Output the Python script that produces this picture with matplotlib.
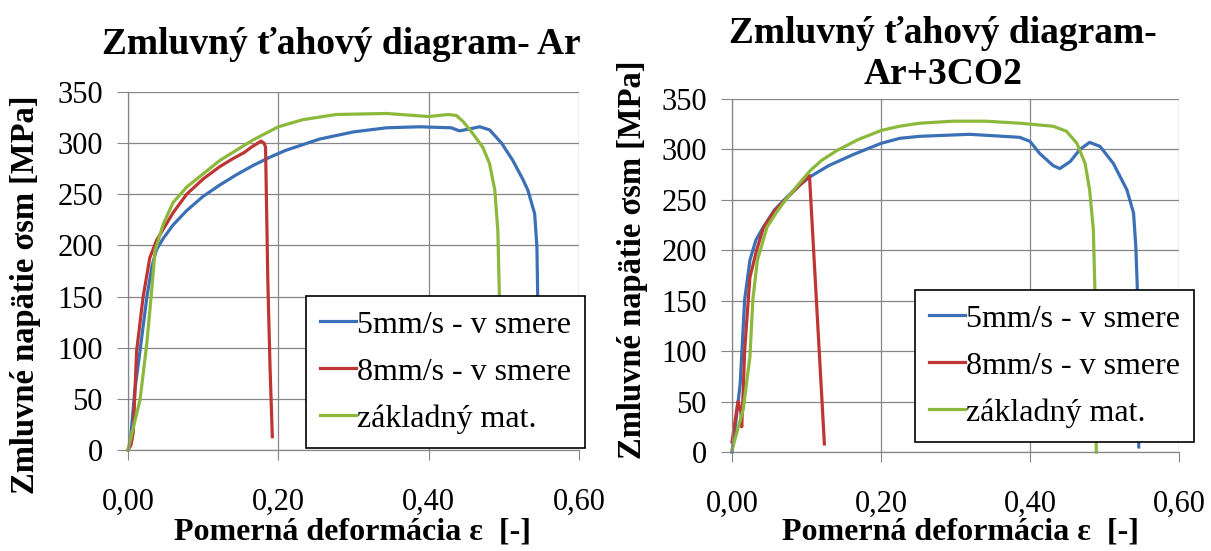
import matplotlib
matplotlib.use('Agg')
import matplotlib.pyplot as plt

plt.rcParams['font.family'] = 'serif'
plt.rcParams['font.serif'] = ['Liberation Serif', 'DejaVu Serif']

# data: strain [-] and stress [MPa]
ar_5mm_eps = [0, 0.003, 0.009, 0.016, 0.025, 0.032, 0.038, 0.047, 0.06, 0.078, 0.1, 0.122,
              0.144, 0.166, 0.188, 0.21, 0.255, 0.3, 0.344, 0.388, 0.43, 0.441, 0.455,
              0.468, 0.481, 0.497, 0.512, 0.525, 0.532, 0.541, 0.544, 0.545, 0.546, 0.547]
ar_5mm_sig = [0, 7, 58, 97, 149, 180, 196, 207, 220, 234, 248, 259,
              269, 278, 286, 293, 304, 311, 315, 316, 315, 312, 314,
              316, 313, 300, 283, 265, 254, 231, 199, 153, 80, 10]

ar_8mm_eps = [0, 0.004, 0.007, 0.0115, 0.02, 0.029, 0.038, 0.047, 0.06, 0.078, 0.1, 0.122,
              0.14, 0.155, 0.164, 0.177, 0.181, 0.183, 0.186, 0.189, 0.192]
ar_8mm_sig = [0, 5, 17, 97, 149, 188, 205, 216, 232, 250, 265, 277,
              285, 291, 296, 302, 300, 296, 166, 80, 13]

ar_base_eps = [0, 0.008, 0.016, 0.025, 0.0315, 0.036, 0.047, 0.06, 0.078, 0.1, 0.122, 0.166,
               0.2, 0.233, 0.277, 0.344, 0.4, 0.426, 0.437, 0.446, 0.455, 0.472, 0.481,
               0.488, 0.492, 0.494, 0.495, 0.496]
ar_base_sig = [0, 25, 49, 104, 156, 195, 221, 242, 257, 270, 283, 303,
               316, 323, 328, 329, 326, 328, 327, 321, 313, 296, 280,
               254, 215, 153, 80, 5]

co2_5mm_eps = [0, 0.006, 0.011, 0.017, 0.024, 0.032, 0.042, 0.057, 0.074, 0.09, 0.105, 0.13,
               0.163, 0.2, 0.225, 0.252, 0.319, 0.386, 0.4, 0.413, 0.431, 0.44, 0.454,
               0.467, 0.48, 0.494, 0.512, 0.53, 0.539, 0.542, 0.544, 0.545, 0.546]
co2_5mm_sig = [0, 35, 68, 151, 190, 210, 223, 240, 253, 264, 273, 284,
               295, 306, 311, 313, 315, 312, 308, 296, 284, 281, 288,
               300, 307, 303, 286, 260, 237, 204, 164, 80, 5]

co2_8mm_eps = [0, 0.008, 0.012, 0.013, 0.015, 0.017, 0.024, 0.033, 0.042, 0.057, 0.074, 0.09,
               0.104, 0.124]
co2_8mm_sig = [10, 50, 40, 25, 60, 101, 173, 200, 222, 239, 252, 264,
               274, 8]

co2_base_eps = [0, 0.015, 0.024, 0.028, 0.034, 0.047, 0.06, 0.074, 0.09, 0.105, 0.12, 0.141,
                0.17, 0.201, 0.225, 0.252, 0.297, 0.34, 0.386, 0.431, 0.449, 0.463, 0.474,
                0.48, 0.485, 0.487, 0.489]
co2_base_sig = [2, 42, 94, 151, 190, 223, 238, 252, 266, 279, 289, 299,
                310, 319, 323, 326, 328, 328, 326, 323, 318, 306, 286,
                260, 221, 164, 0]

labels = ['5mm/s - v smere', '8mm/s - v smere', 'základný mat.']
colors = ['#3C70B6', '#BE3634', '#8CB83C']
x_ticks = [0, 0.2, 0.4, 0.6]
x_ticklabels = ['0,00', '0,20', '0,40', '0,60']
y_ticks = [0, 50, 100, 150, 200, 250, 300, 350]

W, H = 1211, 551
fig = plt.figure(figsize=(W / 100, H / 100), dpi=100)


def px_axes(x0, x1, ytop, ybot):
    return fig.add_axes([x0 / W, (H - ybot) / H, (x1 - x0) / W, (ybot - ytop) / H])


def style(ax):
    ax.set_xlim(0, 0.6)
    ax.set_ylim(0, 350)
    ax.set_xticks(x_ticks)
    ax.set_xticklabels(x_ticklabels)
    ax.set_yticks(y_ticks)
    ax.grid(True, color='#868686', linewidth=0.9)
    ax.set_axisbelow(True)
    for s in ['top', 'right']:
        ax.spines[s].set_visible(False)
    for s in ['left', 'bottom']:
        ax.spines[s].set_color('#868686')
        ax.spines[s].set_linewidth(0.9)
    ax.tick_params(axis='y', length=8, color='#868686', labelsize=22, pad=10)
    ax.tick_params(axis='x', length=7, color='#868686', labelsize=22, pad=20)


def draw(ax, series, leg_x, leg_y):
    for (e, s), c, lab in zip(series, colors, labels):
        ax.plot(e, s, color=c, linewidth=2.3, label=lab, clip_on=False,
                solid_joinstyle='round')
    leg = ax.legend(loc='lower left', bbox_to_anchor=(leg_x / W, (H - leg_y) / H),
                    bbox_transform=fig.transFigure, borderaxespad=0,
                    fontsize=23, fancybox=False, framealpha=1, edgecolor='black',
                    handlelength=1.1, handletextpad=0.05, labelspacing=0.55,
                    borderpad=0.45)
    leg.get_frame().set_linewidth(1.2)
    leg.set_zorder(10)


ax1 = px_axes(128, 579, 92, 450)
style(ax1)
draw(ax1, [(ar_5mm_eps, ar_5mm_sig), (ar_8mm_eps, ar_8mm_sig), (ar_base_eps, ar_base_sig)],
     306, 448)

ax2 = px_axes(732, 1179, 99, 452)
style(ax2)
draw(ax2, [(co2_5mm_eps, co2_5mm_sig), (co2_8mm_eps, co2_8mm_sig), (co2_base_eps, co2_base_sig)],
     915, 442)

# titles and axis labels
fig.text(341 / W, 1 - 45 / H, 'Zmluvný ťahový diagram- Ar', ha='center', va='center',
         fontsize=27, fontweight='bold')
fig.text(943 / W, 1 - 54 / H, 'Zmluvný ťahový diagram-\nAr+3CO2', ha='center', va='center',
         fontsize=27, fontweight='bold', linespacing=1.2)

xlab = 'Pomerná deformácia ε  [-]'
ylab = 'Zmluvné napätie σsm [MPa]'
fig.text(352 / W, 1 - 532 / H, xlab, ha='center', va='center', fontsize=23, fontweight='bold')
fig.text(961 / W, 1 - 532 / H, xlab, ha='center', va='center', fontsize=23, fontweight='bold')
fig.text(26 / W, 1 - 295 / H, ylab, ha='center', va='center', rotation=90,
         fontsize=23.5, fontweight='bold')
fig.text(632 / W, 1 - 260 / H, ylab, ha='center', va='center', rotation=90,
         fontsize=23.5, fontweight='bold')

fig.savefig('out.png', dpi=100)
